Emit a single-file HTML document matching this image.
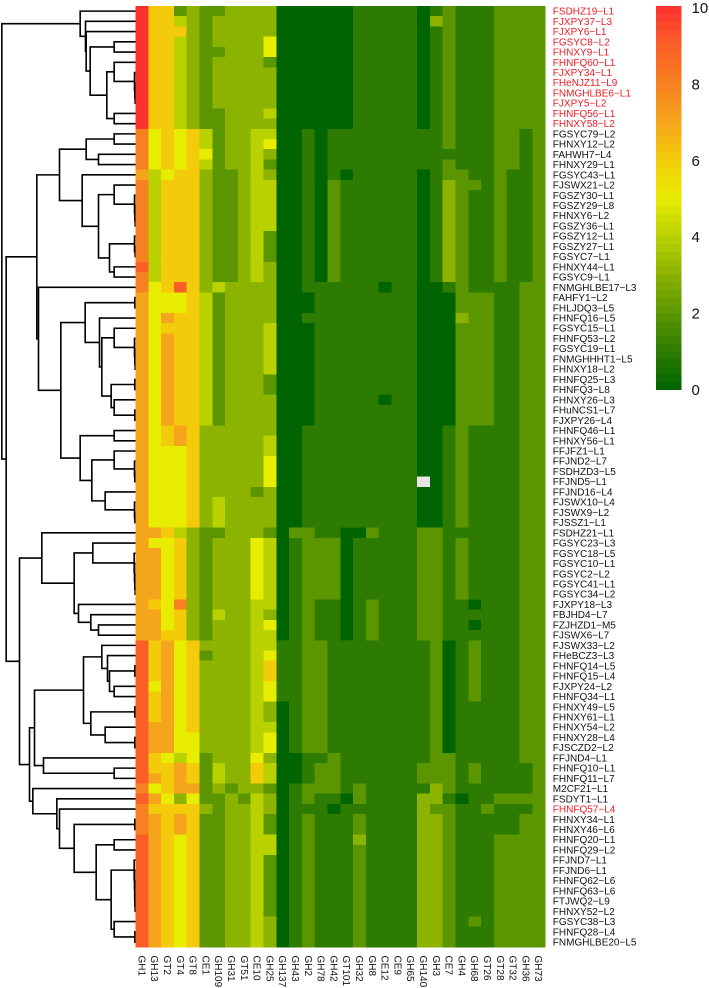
<!DOCTYPE html>
<html lang="en">
<head>
<meta charset="utf-8">
<title>Clustered heatmap</title>
<style>
html,body{margin:0;padding:0;background:#fff;width:709px;height:988px;overflow:hidden}
svg{display:block;font-family:"Liberation Sans",sans-serif}
</style>
</head>
<body>
<svg id="chart" xmlns="http://www.w3.org/2000/svg" width="709" height="988" viewBox="0 0 709 988">
<g id="dendrogram"></g>
<g id="cells" shape-rendering="crispEdges"></g>
<g id="rowLabels"></g>
<g id="colLabels"></g>
<g id="bar"></g>
</svg>
<script>
const columnNames = ["GH1","GH13","GT2","GT4","GT8","CE1","GH109","GH31","GT51","CE10","GH25","GH137","GH43","GH2","GH78","GH42","GT101","GH32","GH8","CE12","CE9","GH65","GH140","GH3","CE7","GH4","GH68","GT26","GT28","GT32","GH36","GH73"];
const rowNames = ["FSDHZ19-L1","FJXPY37-L3","FJXPY6-L1","FGSYC8-L2","FHNXY9-L1","FHNFQ60-L1","FJXPY34-L1","FHeNJZ11-L9","FNMGHLBE6-L1","FJXPY5-L2","FHNFQ56-L1","FHNXY58-L2","FGSYC79-L2","FHNXY12-L2","FAHWH7-L4","FHNXY29-L1","FGSYC43-L1","FJSWX21-L2","FGSZY30-L1","FGSZY29-L8","FHNXY6-L2","FGSZY36-L1","FGSZY12-L1","FGSZY27-L1","FGSYC7-L1","FHNXY44-L1","FGSYC9-L1","FNMGHLBE17-L3","FAHFY1-L2","FHLJDQ3-L5","FHNFQ16-L5","FGSYC15-L1","FHNFQ53-L2","FGSYC19-L1","FNMGHHHT1-L5","FHNXY18-L2","FHNFQ25-L3","FHNFQ3-L8","FHNXY26-L3","FHuNCS1-L7","FJXPY26-L4","FHNFQ46-L1","FHNXY56-L1","FFJFZ1-L1","FFJND2-L7","FSDHZD3-L5","FFJND5-L1","FFJND16-L4","FJSWX10-L4","FJSWX9-L2","FJSSZ1-L1","FSDHZ21-L1","FGSYC23-L3","FGSYC18-L5","FGSYC10-L1","FGSYC2-L2","FGSYC41-L1","FGSYC34-L2","FJXPY18-L3","FBJHD4-L7","FZJHZD1-M5","FJSWX6-L7","FJSWX33-L2","FHeBCZ3-L3","FHNFQ14-L5","FHNFQ15-L4","FJXPY24-L2","FHNFQ34-L1","FHNXY49-L5","FHNXY61-L1","FHNXY54-L2","FHNXY28-L4","FJSCZD2-L2","FFJND4-L1","FHNFQ10-L1","FHNFQ11-L7","M2CF21-L1","FSDYT1-L1","FHNFQ57-L4","FHNXY34-L1","FHNXY46-L6","FHNFQ20-L1","FHNFQ29-L2","FFJND7-L1","FFJND6-L1","FHNFQ62-L6","FHNFQ63-L6","FTJWQ2-L9","FHNXY52-L2","FGSYC38-L3","FHNFQ28-L4","FNMGHLBE20-L5"];
const highlightedRows = ["FSDHZ19-L1","FJXPY37-L3","FJXPY6-L1","FGSYC8-L2","FHNXY9-L1","FHNFQ60-L1","FJXPY34-L1","FHeNJZ11-L9","FNMGHLBE6-L1","FJXPY5-L2","FHNFQ56-L1","FHNXY58-L2","FHNFQ57-L4"];
const legendTicks = [0,2,4,6,8,10];
const matrix = [
[10,6,6,2,3,2,2,3,3,3,3,0,0,0,0,0,0,1,1,1,1,1,0,1,2,1,1,1,2,2,2,2],
[10,6,6,4,3,2,3,3,3,3,3,0,0,0,0,0,0,1,1,1,1,1,0,3,2,1,1,1,2,2,2,2],
[10,6,6,6,3,2,3,3,3,3,3,0,0,0,0,0,0,1,1,1,1,1,0,1,2,1,1,1,2,2,2,2],
[10,6,6,4,3,2,3,3,3,3,5,0,0,0,0,0,0,1,1,1,1,1,0,1,2,1,1,1,2,2,2,2],
[10,6,6,4,3,2,2,3,3,3,5,0,0,0,0,0,0,1,1,1,1,1,0,1,2,1,1,1,2,2,2,2],
[10,6,6,4,3,2,3,3,3,3,2,0,0,0,0,0,0,1,1,1,1,1,0,1,2,1,1,1,2,2,2,2],
[10,6,6,4,3,2,3,3,3,3,3,0,0,0,0,0,0,1,1,1,1,1,0,1,2,1,1,1,2,2,2,2],
[10,6,6,4,3,2,3,3,3,3,3,0,0,0,0,0,0,1,1,1,1,1,0,1,2,1,1,1,2,2,2,2],
[10,6,6,4,3,2,3,3,3,3,3,0,0,0,0,0,0,1,1,1,1,1,0,1,2,1,1,1,2,2,2,2],
[10,6,6,4,3,2,3,3,3,3,3,0,0,0,0,0,0,1,1,1,1,1,0,1,2,1,1,1,2,2,2,2],
[10,6,6,4,3,2,2,3,3,3,4,0,0,0,0,0,0,1,1,1,1,1,0,1,2,1,1,1,2,2,2,2],
[10,6,6,4,3,2,2,3,3,3,3,0,0,0,0,0,0,1,1,1,1,1,0,1,2,1,1,1,2,2,2,2],
[8,5,6,5,6,4,2,3,3,4,4,0,0,1,0,1,1,1,1,1,1,1,1,1,2,1,1,1,2,2,1,2],
[8,5,6,5,6,4,2,3,3,4,5,0,0,1,0,1,1,1,1,1,1,1,1,1,2,1,1,1,2,2,1,2],
[8,5,6,5,6,5,2,3,3,4,3,0,0,1,0,1,1,1,1,1,1,1,1,1,1,1,1,1,2,2,1,2],
[8,5,6,5,6,4,2,3,3,4,2,0,0,1,0,1,1,1,1,1,1,1,1,1,2,1,1,1,2,2,1,2],
[7,4,5,6,6,3,2,2,3,4,3,0,0,1,0,1,0,1,1,1,1,1,0,1,2,2,1,1,2,1,1,2],
[8,4,6,6,6,3,2,2,3,4,4,0,0,1,0,2,1,1,1,1,1,1,0,1,3,2,2,1,2,1,1,2],
[8,4,6,6,6,3,2,2,3,4,4,0,0,1,0,2,1,1,1,1,1,1,0,1,3,2,1,1,2,1,1,2],
[8,4,6,6,6,3,2,2,3,4,4,0,0,1,0,2,1,1,1,1,1,1,0,1,3,2,1,1,2,1,1,2],
[8,4,6,6,6,3,2,2,3,4,4,0,0,1,0,2,1,1,1,1,1,1,0,1,3,2,1,1,2,1,1,2],
[8,4,6,6,6,3,2,2,3,4,4,0,0,1,0,2,1,1,1,1,1,1,0,1,3,2,1,1,2,1,1,2],
[8,4,6,6,6,3,2,2,3,4,2,0,0,1,0,2,1,1,1,1,1,1,0,1,3,2,1,1,2,1,1,2],
[8,4,6,6,6,3,2,2,3,4,2,0,0,1,0,2,1,1,1,1,1,1,0,1,3,2,1,1,2,1,1,2],
[8,4,6,6,6,3,2,2,3,4,2,0,0,1,0,2,1,1,1,1,1,1,0,1,3,2,1,1,2,1,1,2],
[9,4,6,6,6,3,2,2,3,4,3,0,0,1,0,2,1,1,1,1,1,1,0,1,3,2,1,1,2,1,1,2],
[8,4,6,6,6,3,2,2,3,4,3,0,0,1,0,2,1,1,1,1,1,1,0,1,3,2,1,1,2,1,1,2],
[8,5,6,9,6,3,4,3,3,3,3,0,0,1,1,1,1,1,1,0,1,1,0,0,1,2,1,1,1,1,2,2],
[7,5,5,5,6,4,2,3,3,3,3,0,0,0,1,1,1,1,1,1,1,1,0,0,0,2,2,2,1,1,2,2],
[7,5,5,5,6,4,2,3,3,3,3,0,0,0,1,1,1,1,1,1,1,1,0,0,0,2,2,2,1,1,2,2],
[7,5,7,6,6,4,2,3,3,3,3,0,0,1,1,1,1,1,1,1,1,1,0,0,0,3,2,2,1,1,2,2],
[7,5,6,6,6,4,2,3,3,3,4,0,0,0,1,1,1,1,1,1,1,1,0,0,0,2,2,2,1,1,2,2],
[7,5,7,6,6,4,2,3,3,3,4,0,0,0,1,1,1,1,1,1,1,1,0,0,0,2,2,2,1,1,2,2],
[7,5,7,6,6,4,2,3,3,3,4,0,0,0,1,1,1,1,1,1,1,1,0,0,0,2,2,2,1,1,2,2],
[7,5,7,6,6,4,2,3,3,3,4,0,0,0,1,1,1,1,1,1,1,1,0,0,0,2,2,2,1,1,2,2],
[7,5,7,6,6,4,2,3,3,3,4,0,0,0,1,1,1,1,1,1,1,1,0,0,0,2,2,2,1,1,2,2],
[7,5,7,6,6,4,2,3,3,3,2,0,0,0,1,1,1,1,1,1,1,1,0,0,0,2,2,2,1,1,2,2],
[7,5,7,6,6,4,2,3,3,3,2,0,0,0,1,1,1,1,1,1,1,1,0,0,0,2,2,2,1,1,2,2],
[7,5,7,6,6,4,2,3,3,3,3,0,0,0,1,1,1,1,1,0,1,1,0,0,0,2,2,2,1,1,2,2],
[7,5,7,6,6,4,2,3,3,3,3,0,0,0,1,1,1,1,1,1,1,1,0,0,0,2,2,2,1,1,2,2],
[7,5,7,6,6,4,2,3,3,3,3,0,0,0,1,1,1,1,1,1,1,1,0,0,0,2,2,2,1,1,2,2],
[7,5,6,7,6,3,3,3,3,3,3,0,0,1,1,1,1,1,1,1,1,1,0,0,1,2,1,1,1,1,2,2],
[7,5,6,7,6,3,3,3,3,3,4,0,0,1,1,1,1,1,1,1,1,1,0,0,1,2,1,1,1,1,2,2],
[7,5,5,5,6,3,3,3,3,3,4,0,0,1,1,1,1,1,1,1,1,1,0,0,1,2,1,1,1,1,2,2],
[7,5,5,5,6,3,3,3,3,3,5,0,0,1,1,1,1,1,1,1,1,1,0,0,1,2,1,1,1,1,2,2],
[7,5,5,5,6,3,3,3,3,3,5,0,0,1,1,1,1,1,1,1,1,1,0,0,1,2,1,1,1,1,2,2],
[7,5,5,5,6,3,3,3,3,3,5,0,0,1,1,1,1,1,1,1,1,1,null,0,1,2,1,1,1,1,2,2],
[7,5,5,5,6,3,3,3,3,2,3,0,0,1,1,1,1,1,1,1,1,1,0,0,1,2,1,1,1,1,2,2],
[7,5,5,5,6,3,4,3,3,3,3,0,0,1,1,1,1,1,1,1,1,1,0,0,1,2,1,1,1,1,2,2],
[7,5,5,5,6,3,4,3,3,3,3,0,0,1,1,1,1,1,1,1,1,1,0,0,1,2,1,1,1,1,2,2],
[7,5,5,5,6,3,4,3,3,3,3,0,0,1,1,1,1,1,1,1,1,1,0,0,1,2,1,1,1,1,2,2],
[7,7,6,4,3,2,2,3,3,3,2,0,2,2,1,1,0,0,2,1,1,1,2,2,1,1,1,1,1,1,2,2],
[7,5,5,6,3,2,3,3,3,5,4,0,1,2,2,2,0,1,1,1,1,1,2,2,1,2,1,1,1,1,2,2],
[7,7,5,6,3,2,3,3,3,5,4,0,1,2,2,2,0,1,1,1,1,1,2,2,1,2,1,1,1,1,2,2],
[7,7,5,6,3,2,3,3,3,5,4,0,1,2,2,2,0,1,1,1,1,1,2,2,1,2,1,1,1,1,2,2],
[7,7,5,6,3,2,3,3,3,5,4,0,1,2,2,2,0,1,1,1,1,1,2,2,1,2,1,1,1,1,2,2],
[7,7,5,6,3,2,3,3,3,5,4,0,1,2,2,2,0,1,1,1,1,1,2,2,1,2,1,1,1,1,2,2],
[7,7,5,6,3,2,3,3,3,5,4,0,1,2,2,2,0,1,1,1,1,1,2,2,1,2,1,1,1,1,2,2],
[7,6,5,8,3,2,3,3,3,4,4,0,1,2,1,1,0,1,2,1,1,1,2,2,1,1,0,1,1,1,2,2],
[7,7,5,6,3,2,4,3,3,4,3,0,1,2,1,1,0,1,2,1,1,1,2,2,1,1,1,1,1,1,2,2],
[7,7,5,6,3,2,3,3,3,4,5,0,1,2,1,1,0,1,2,1,1,1,2,2,1,1,0,1,1,1,2,2],
[7,7,6,6,3,2,3,3,3,4,4,0,1,2,1,1,0,1,2,1,1,1,2,2,1,1,1,1,1,1,2,2],
[9,6,7,5,6,3,3,3,3,4,4,1,1,2,2,1,1,1,1,1,1,1,1,2,0,1,2,1,1,1,2,2],
[9,6,7,5,6,2,3,3,3,4,5,1,1,2,2,1,1,1,1,1,1,1,1,2,0,1,2,1,1,1,2,2],
[9,6,7,5,6,3,3,3,3,4,6,1,1,2,2,1,1,1,1,1,1,1,1,2,0,1,2,1,1,1,2,2],
[9,6,7,5,6,3,3,3,3,4,6,1,1,2,2,1,1,1,1,1,1,1,1,2,0,1,2,1,1,1,2,2],
[9,5,7,5,6,3,3,3,3,4,5,1,1,2,2,1,1,1,1,1,1,1,1,2,0,1,2,1,1,1,2,2],
[9,6,7,5,6,3,3,3,3,4,5,1,1,2,2,1,1,1,1,1,1,1,1,2,0,1,2,1,1,1,2,2],
[9,6,7,5,6,3,3,3,3,4,3,0,1,2,2,1,1,1,1,1,1,1,1,2,0,1,1,1,1,1,2,2],
[9,6,7,5,6,3,3,3,3,4,3,0,1,2,2,1,1,1,1,1,1,1,1,2,0,1,1,1,1,1,2,2],
[9,7,7,5,6,3,3,3,3,4,4,0,1,2,2,1,1,1,1,1,1,1,1,2,0,1,1,1,1,1,2,2],
[9,7,7,5,5,3,3,3,3,4,5,0,1,2,2,1,1,1,1,1,1,1,1,2,0,1,1,1,1,1,2,2],
[9,7,7,5,5,3,3,3,3,4,5,0,1,2,2,1,1,1,1,1,1,1,1,2,0,1,1,1,1,1,2,2],
[9,6,5,4,5,2,3,3,3,5,3,0,0,1,1,2,1,1,1,1,1,1,1,2,2,1,1,1,1,1,2,2],
[9,6,6,7,6,2,4,3,3,6,4,0,0,1,2,2,1,1,1,1,1,1,2,2,2,1,2,1,1,1,1,2],
[9,7,6,7,6,2,4,3,3,6,4,0,0,1,2,2,1,1,1,1,1,1,2,2,2,1,2,1,1,1,1,2],
[8,5,6,7,7,2,3,2,3,3,2,0,1,2,2,2,1,2,1,1,1,1,1,3,2,1,1,1,1,1,1,2],
[9,7,5,3,5,2,2,3,2,4,3,0,1,2,1,1,0,2,1,1,1,1,3,3,1,0,1,1,2,2,2,2],
[8,6,6,6,6,3,2,3,3,4,3,0,1,1,1,0,1,1,1,1,1,1,3,2,2,1,1,2,1,1,1,2],
[8,7,6,7,6,2,2,3,3,4,2,0,1,2,1,1,1,2,1,1,1,1,3,3,2,1,1,1,1,1,2,2],
[8,7,6,7,6,2,2,3,3,4,2,0,1,2,1,1,1,2,1,1,1,1,3,3,2,1,1,1,1,1,2,2],
[9,7,6,5,6,2,2,3,3,4,4,0,1,2,1,1,1,3,1,1,1,1,3,3,2,1,1,1,2,2,2,2],
[9,7,6,5,6,2,2,3,3,4,4,0,1,2,1,1,1,2,1,1,1,1,3,3,2,1,1,1,2,2,2,2],
[9,7,6,5,6,2,2,3,3,4,2,0,1,2,1,1,1,2,1,1,1,1,3,3,2,1,1,1,2,2,2,2],
[9,7,6,5,6,2,2,3,3,4,2,0,1,2,1,1,1,2,1,1,1,1,3,3,2,1,1,1,2,2,2,2],
[9,7,6,5,6,2,2,3,3,4,2,0,1,2,1,1,1,2,1,1,1,1,3,3,2,1,1,1,2,2,2,2],
[9,7,6,5,6,2,2,3,3,4,2,0,1,2,1,1,1,2,1,1,1,1,3,3,2,1,1,1,2,2,2,2],
[9,7,6,5,6,2,2,3,3,4,2,0,1,2,1,1,1,2,1,1,1,1,3,3,2,1,1,1,2,2,2,2],
[9,7,6,5,6,2,2,3,3,4,2,0,1,2,1,1,1,2,1,1,1,1,3,3,2,1,1,1,2,2,2,2],
[9,7,6,5,6,2,2,3,3,4,3,0,1,2,1,1,1,2,1,1,1,1,3,3,2,1,2,1,2,2,2,2],
[9,7,6,5,6,2,2,3,3,4,3,0,1,2,1,1,1,2,1,1,1,1,3,3,2,1,1,1,2,2,2,2],
[9,7,6,5,6,2,2,3,3,4,3,0,1,2,1,1,1,2,1,1,1,1,3,3,2,1,1,1,2,2,2,2]
];
/* Dendrogram merges: [merge height, left branch, right branch]; a plain number is a row index. */
const treeTop = [166,0,[150,1,[148,2,[136,[64,3,4],[86,[64,5,[3,6,[2,7,[1,8,9]]]],[64,10,11]]]]]];
const treeMidA = [228,[148,[64,12,13],[111,14,15]],[160,16,[111,[64,17,[3,18,[2,19,[1,20,21]]]],[78,[3,22,[1,23,24]],[64,25,26]]]]];
const treeMidB = [151,[2,28,29],[108,30,[101,[64,31,[3,32,[2,33,[1,34,35]]]],[73,[2,36,37],[64,38,[2,39,40]]]]]];
const treeMidC = [166,[64,41,42],[131,[64,43,[3,44,[2,45,46]]],[91,47,[3,48,[2,49,50]]]]];
const treeLowA = [281,51,[184,[128,52,[4,53,[3,54,[2,55,[1,56,57]]]]],[171,58,[134,59,[111,60,61]]]]];
const treeLowB = [303,[156,[101,62,[84,63,[78,[2,64,65],[64,66,67]]]],[134,[2,68,69],[91,70,[2,71,72]]]],[276,73,[64,74,75]]];
const treeLowC = [308,76,[236,77,[228,78,[184,[2,79,80],[118,[64,81,82],[73,[4,83,[3,84,[2.5,85,[2,86,[1,87,88]]]]],[64,89,[2,90,91]]]]]]]];
const treeRoot = [401,treeTop,[388,[296,treeMidA,[291,27,[224,treeMidB,treeMidC]]],[348,treeLowA,[318,treeLowB,treeLowC]]]];

const NS = 'http://www.w3.org/2000/svg';
const gridLeft = 135.5, gridTop = 6, colW = 12.8, rowH = 10.23;
const barLeft = 656, barW = 25.7, barTop = 6, barBottom = 389.5, barSteps = 50;
const colorStops = [[0,100,0],[45,123,0],[91,150,0],[139,179,0],[186,209,0],[232,236,0],[243,203,10],[245,165,28],[247,128,32],[251,95,40],[255,48,48]];
const xOf = c => gridLeft + c * colW;
const yOf = r => gridTop + r * rowH;
const colorOf = v => {
  const t = Math.max(0, Math.min(10, v));
  const i = Math.min(9, Math.floor(t));
  const f = t - i;
  const a = colorStops[i], b = colorStops[i + 1];
  return 'rgb(' + a.map((p, k) => Math.round(p + (b[k] - p) * f)).join(',') + ')';
};
const make = (tag, attrs, parent) => {
  const el = document.createElementNS(NS, tag);
  Object.keys(attrs).forEach(k => el.setAttribute(k, attrs[k]));
  parent.appendChild(el);
  return el;
};

/* heatmap cells */
const cellsG = document.getElementById('cells');
matrix.forEach((row, r) => {
  row.forEach((v, c) => {
    const el = make('rect', {
      x: xOf(c), y: yOf(r), width: colW + 0.4, height: rowH + 0.4,
      fill: v === null ? '#e6e6e6' : colorOf(v)
    }, cellsG);
    
    
  });
});

/* row labels */
const rowG = document.getElementById('rowLabels');
rowNames.forEach((name, r) => {
  const el = make('text', {
    x: 552.8, y: yOf(r) + rowH / 2 + 3.5, 'font-size': 10,
    fill: highlightedRows.includes(name) ? '#ee1c25' : '#111'
  }, rowG);
  el.textContent = name.replace('-', '\u2212');
  
  
});

/* column labels */
const colG = document.getElementById('colLabels');
columnNames.forEach((name, c) => {
  const cx = xOf(c) + colW / 2 - 3.5, cy = 955.5;
  const el = make('text', {
    x: cx, y: cy, 'font-size': 10, fill: '#111',
    transform: 'rotate(90 ' + cx + ' ' + cy + ')'
  }, colG);
  el.textContent = name;
  
  
});

/* dendrogram */
const dendroG = document.getElementById('dendrogram');
const heightToX = h => gridLeft - h / 3;
const drawNode = node => {
  if (typeof node === 'number') return { x: gridLeft, y: yOf(node) + rowH / 2 };
  const a = drawNode(node[1]);
  const b = drawNode(node[2]);
  const x = heightToX(node[0]);
  const el = make('path', {
    d: 'M' + a.x + ' ' + a.y + 'H' + x + 'V' + b.y + 'H' + b.x,
    fill: 'none', stroke: '#000', 'stroke-width': 1.6, 'stroke-linejoin': 'miter'
  }, dendroG);
  
  
  return { x: x, y: (a.y + b.y) / 2 };
};
drawNode(treeRoot);

/* colour legend */
const barG = document.getElementById('bar');
const barStepH = (barBottom - barTop) / barSteps;
for (let i = 0; i < barSteps; i++) {
  const el = make('rect', {
    x: barLeft, y: barBottom - (i + 1) * barStepH, width: barW, height: barStepH + 0.4,
    fill: colorOf((i + 0.5) * 10 / barSteps), 'shape-rendering': 'crispEdges'
  }, barG);
  
  
}
legendTicks.forEach(t => {
  const el = make('text', {
    x: 691.5, y: 390 - t * 38.2 + 5, 'font-size': 15, fill: '#111'
  }, barG);
  el.textContent = t;
  
  
});
</script>
</body>
</html>
